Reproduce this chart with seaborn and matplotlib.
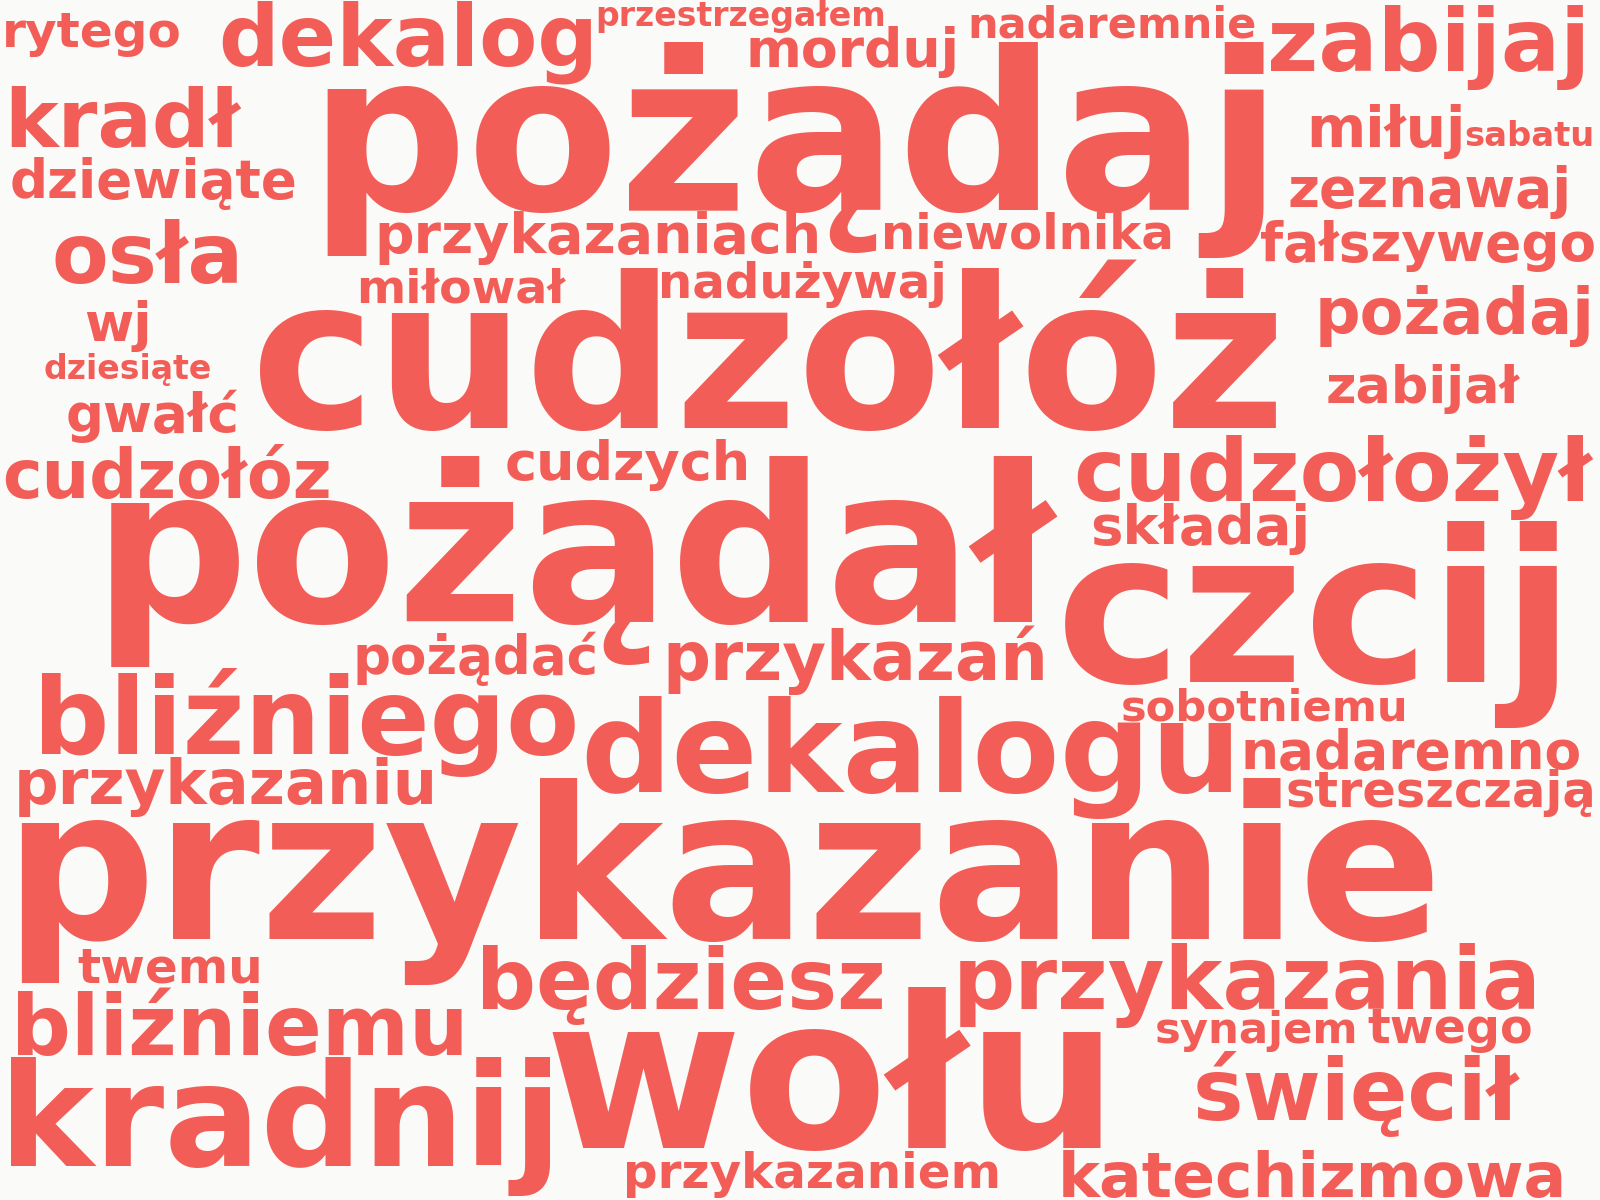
import matplotlib
matplotlib.use("Agg")
import matplotlib.pyplot as plt
import seaborn as sns
from matplotlib.textpath import TextPath
from matplotlib.font_manager import FontProperties

# ---- data: the words of the cloud ----
words = [
    "rytego", "dekalog", "przestrzegałem", "morduj", "nadaremnie", "zabijaj",
    "kradł", "dziewiąte", "osła", "wj", "dziesiąte", "gwałć", "cudzołóz",
    "pożądaj", "przykazaniach", "niewolnika", "miłował", "nadużywaj", "cudzołóż",
    "miłuj", "sabatu", "zeznawaj", "fałszywego", "pożadaj", "zabijał",
    "cudzych", "cudzołożył", "składaj", "pożądał", "czcij", "pożądać",
    "przykazań", "bliźniego", "sobotniemu", "dekalogu", "nadaremno",
    "przykazaniu", "streszczają", "przykazanie", "twemu", "będziesz",
    "przykazania", "bliźniemu", "synajem", "twego", "wołu", "kradnij",
    "święcił", "przykazaniem", "katechizmowa",
]

# ---- layout (reference frame 1568 x 1176): ink left, ink right, baseline ----
left = [6, 218, 586, 735, 952, 1246,
        11, 12, 54, 84, 44, 67, 5,
        320, 371, 867, 353, 649, 255,
        1285, 1437, 1264, 1236, 1294, 1301,
        497, 1055, 1071, 109, 1044, 350,
        655, 41, 1101, 574, 1220,
        19, 1262, 21, 76, 473,
        941, 18, 1134, 1341, 541, 11,
        1173, 615, 1042]
right = [176, 580, 866, 936, 1230, 1552,
         237, 289, 233, 144, 206, 233, 322,
         1238, 800, 1147, 555, 924, 1251,
         1432, 1560, 1535, 1562, 1558, 1490,
         732, 1561, 1279, 1037, 1527, 585,
         1023, 563, 1377, 1206, 1548,
         425, 1560, 1404, 253, 864,
         1504, 453, 1328, 1501, 1079, 539,
         1490, 978, 1531]
baseline = [46, 64, 25.5, 66, 36.5, 70,
            144, 194, 277, 334, 371, 423, 488,
            206, 248, 244, 296, 292, 419,
            144, 143, 203, 256, 327, 395,
            470, 491, 533, 610, 668, 661,
            666, 739, 706, 776, 754,
            788, 791, 920, 963, 989,
            989, 1034, 1022, 1022, 1125, 1143,
            1098, 1164, 1173]

FRAME_W, FRAME_H = 1568, 1176
FIG_W, FIG_H, DPI = 16, 12, 100
COLOR = "#F35D57"
BG = "#FAFAF8"

sns.set_style("white")
plt.rcParams["font.family"] = ["DejaVu Sans"]
fp = FontProperties(family="DejaVu Sans", weight="bold")

fig = plt.figure(figsize=(FIG_W, FIG_H), dpi=DPI, facecolor=BG)
ax = fig.add_axes([0, 0, 1, 1])
ax.set_facecolor(BG)
ax.set_xlim(0, FRAME_W)
ax.set_ylim(FRAME_H, 0)
ax.axis("off")

scale = FIG_W * DPI / FRAME_W  # output px per frame unit
for w, l, r, b in zip(words, left, right, baseline):
    ext = TextPath((0, 0), w, size=1, prop=fp).get_extents()
    ink_w = ext.x1 - ext.x0
    px_size = (r - l) * scale / ink_w          # em size in output pixels
    fs_pt = px_size * 72 / DPI
    x0 = l - ext.x0 * px_size / scale          # pen origin in frame units
    ax.text(x0, b, w, fontsize=fs_pt, fontweight="bold", color=COLOR,
            ha="left", va="baseline", family="DejaVu Sans")

fig.savefig("out.png", dpi=DPI, facecolor=BG)
